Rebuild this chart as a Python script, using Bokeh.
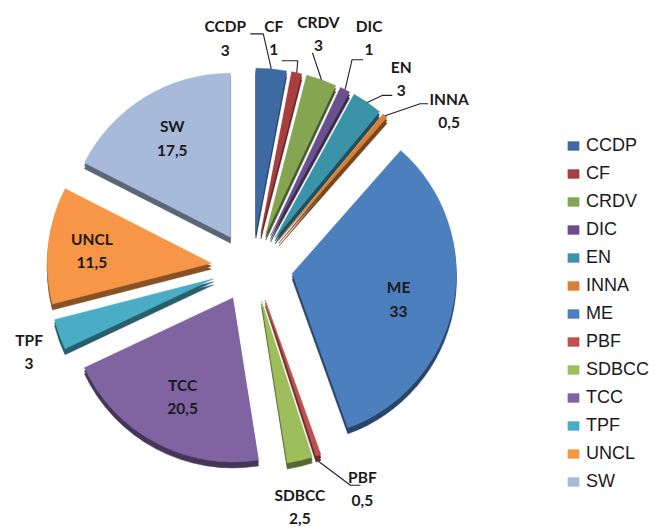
import numpy as np
from bokeh.plotting import figure
from bokeh.models import ColumnDataSource, Legend, LegendItem, Range1d
from bokeh.core.properties import value
from bokeh.embed import file_html
from bokeh.resources import INLINE

# ---------------- data ----------------
categories = ["CCDP", "CF", "CRDV", "DIC", "EN", "INNA", "ME", "PBF",
              "SDBCC", "TCC", "TPF", "UNCL", "SW"]
values = [3, 1, 3, 1, 3, 0.5, 33, 0.5, 2.5, 20.5, 3, 11.5, 17.5]
value_labels = ["3", "1", "3", "1", "3", "0,5", "33", "0,5", "2,5",
                "20,5", "3", "11,5", "17,5"]

# ---------------- styles ----------------
colors = ["#3E6AA4", "#A83E3E", "#86A552", "#6A508E", "#3B93A8", "#DB7E36",
          "#4C7FBE", "#C05050", "#9DBE5A", "#8064A2", "#4BACC6", "#F79646",
          "#A8BAD9"]

def darker(h, f=0.55):
    r, g, b = int(h[1:3], 16), int(h[3:5], 16), int(h[5:7], 16)
    return "#%02x%02x%02x" % (int(r * f), int(g * f), int(b * f))

side_colors = [darker(c) for c in colors]

W, H = 654, 528
CX, CY = 251.5, 261.5      # pie centre (plot units = pixels)
R = 164                    # radius
EX, EY = 41, 35            # explosion distance (x / y)
DEPTH = 6                  # 3-D thickness

# label placement: "in" = inside at fraction of radius, else offset from outer arc point
label_style = {
    "CCDP":  dict(kind="out", text=(-46, 31), path=[(-8, 35), (-21, 35)]),
    "CF":    dict(kind="out", text=(-23, 35), path=[(1, 12), (-15, 12)]),
    "CRDV":  dict(kind="out", text=(-3, 46), path=[(-9, 27)]),
    "DIC":   dict(kind="out", text=(24, 52), path=[(7, 30), (18, 30)]),
    "EN":    dict(kind="out", text=(34, 24), path=[(15, 7), (25, 7)]),
    "INNA":  dict(kind="out", text=(64, 5), path=[(35, 12), (43, 12)]),
    "ME":    dict(kind="in", frac=0.66, nudge=(0, -5)),
    "PBF":   dict(kind="out", text=(44, -33), path=[(32, -30), (42, -30)], start=(0, -6)),
    "SDBCC": dict(kind="out", text=(0, -46), path=[]),
    "TCC":   dict(kind="in", frac=0.68, nudge=(2, 0)),
    "TPF":   dict(kind="out", text=(-30, -17), path=[]),
    "UNCL":  dict(kind="in", frac=0.72, nudge=(-2, 0)),
    "SW":    dict(kind="in", frac=0.68, nudge=(0, 4)),
}

# ---------------- geometry ----------------
vals = np.array(values, dtype=float)
cum = np.concatenate([[0], np.cumsum(vals)]) / vals.sum() * 2 * np.pi
t1, t2 = cum[:-1], cum[1:]
mid = (t1 + t2) / 2
ux, uy = np.sin(mid), np.cos(mid)          # unit vector, clockwise from top
ax_ = CX + EX * ux
ay_ = CY + EY * uy

src = ColumnDataSource(dict(
    x=ax_, y=ay_, start=np.pi / 2 - t1, end=np.pi / 2 - t2,
    color=colors, side=side_colors, cat=categories,
    ys1=ay_ - DEPTH / 2, ys2=ay_ - DEPTH,
))

p = figure(width=W, height=H, x_range=Range1d(0, W), y_range=Range1d(0, H),
           output_backend="svg", toolbar_location=None, min_border=0,
           x_axis_type=None, y_axis_type=None)
p.grid.visible = False
p.outline_line_color = None
p.background_fill_color = "white"

for yc in ("ys2", "ys1"):
    p.wedge(x="x", y=yc, radius=R, start_angle="start", end_angle="end",
            direction="clock", fill_color="side", line_color="side",
            line_width=0.5, source=src)
top = p.wedge(x="x", y="y", radius=R, start_angle="start", end_angle="end",
              direction="clock", fill_color="color", line_color="color",
              line_width=0.5, source=src)

# labels and leader lines
lx, ly, lt = [], [], []
lines_x, lines_y = [], []
for i, cat in enumerate(categories):
    st = label_style[cat]
    txt = f"{cat}\n{value_labels[i]}"
    if st["kind"] == "in":
        d = st["frac"] * R
        lx.append(ax_[i] + d * ux[i] + st["nudge"][0])
        ly.append(ay_[i] + d * uy[i] + st["nudge"][1])
    else:
        ox, oy = ax_[i] + R * ux[i], ay_[i] + R * uy[i]
        lx.append(ox + st["text"][0])
        ly.append(oy + st["text"][1])
        if st["path"]:
            s0 = st.get("start", (0, 0))
            xs = [ox + s0[0]] + [ox + dx for dx, dy in st["path"]]
            ys = [oy + s0[1]] + [oy + dy for dx, dy in st["path"]]
            lines_x.append(xs)
            lines_y.append(ys)
    lt.append(txt)

p.multi_line(xs=lines_x, ys=lines_y, line_color="#222222", line_width=1.1)
p.text(x=lx, y=ly, text=lt, text_align="center", text_baseline="middle",
       text_font=value("Lato"), text_font_style="bold", text_font_size="15.5px",
       text_color="#1a1a1a", text_line_height=1.3)

items = [LegendItem(label=c, renderers=[top], index=i) for i, c in enumerate(categories)]
legend = Legend(items=items, location=(566, 36), orientation="vertical",
                glyph_width=14, glyph_height=11, label_height=20,
                spacing=7, padding=0, margin=0, label_standoff=6,
                label_text_font="Liberation Sans", label_text_font_size="18px",
                label_text_color="#1a1a1a", border_line_color=None,
                background_fill_alpha=0)
p.add_layout(legend)

open("out.html", "w").write(file_html(p, INLINE))
